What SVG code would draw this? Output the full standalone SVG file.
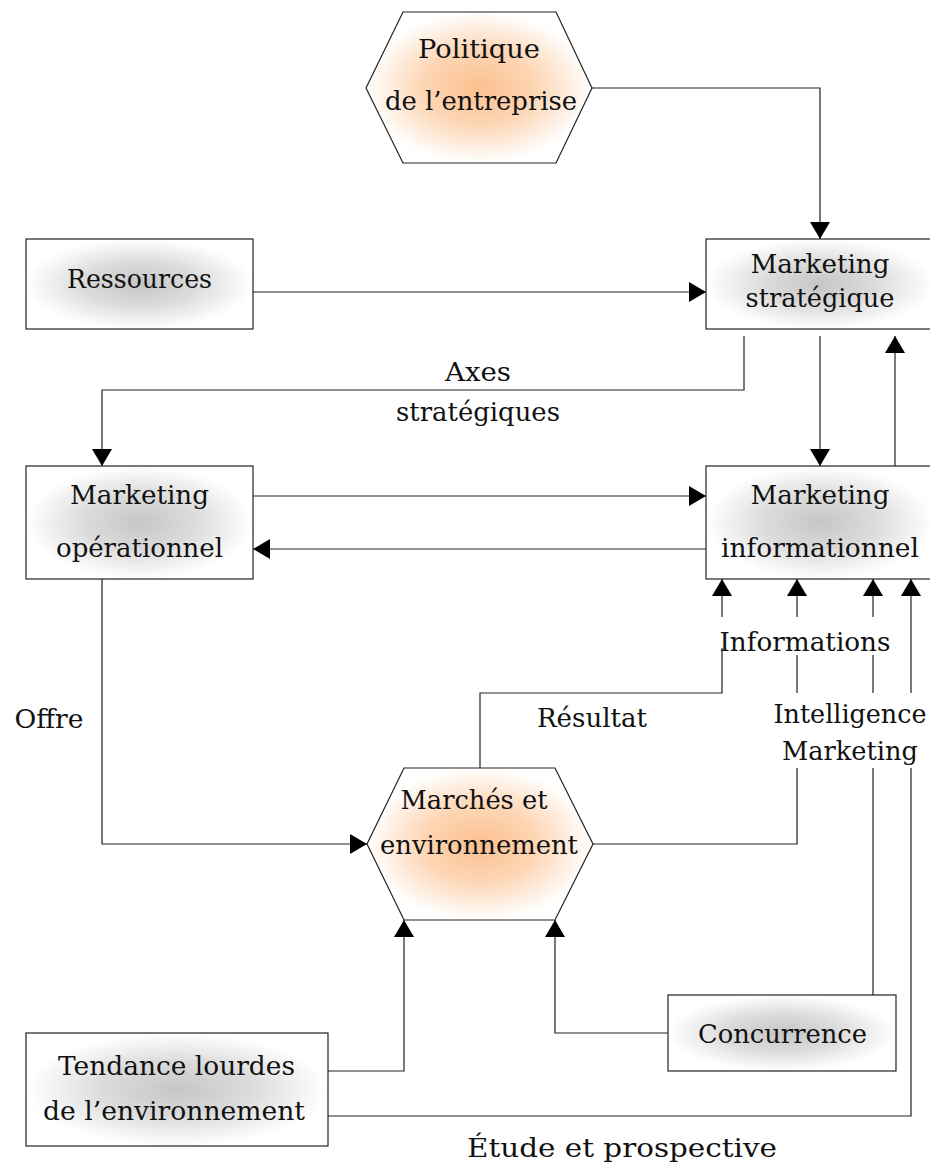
<svg xmlns="http://www.w3.org/2000/svg" width="930" height="1167" viewBox="0 0 930 1167">
  <defs>
    <radialGradient id="grayShade" cx="0.5" cy="0.5" r="0.5">
      <stop offset="0" stop-color="#c6c6c6"/>
      <stop offset="0.5" stop-color="#dcdcdc"/>
      <stop offset="1" stop-color="#ffffff"/>
    </radialGradient>
    <radialGradient id="orangeShade" cx="0.5" cy="0.5" r="0.5">
      <stop offset="0" stop-color="#fbc08e"/>
      <stop offset="0.5" stop-color="#fdd6b5"/>
      <stop offset="1" stop-color="#ffffff"/>
    </radialGradient>
    <marker id="arrow" markerUnits="userSpaceOnUse" markerWidth="18" markerHeight="20" viewBox="0 0 18 20" refX="17" refY="10" orient="auto">
      <path d="M0,0 L17,10 L0,20 Z" fill="#000"/>
    </marker>
  </defs>
  <style>
    .box { stroke: #222; stroke-width: 1.2; fill: url(#grayShade); }
    .hex { stroke: #222; stroke-width: 1.2; fill: url(#orangeShade); }
    .wire { fill: none; stroke: #222; stroke-width: 1.2; }
    .arr { marker-end: url(#arrow); }
    text { font-family: "DejaVu Serif", "Liberation Serif", serif; font-size: 26px; fill: #111; text-anchor: middle; }
  </style>

  <rect width="930" height="1167" fill="#fff"/>

  <!-- connectors -->
  <g id="connectors">
    <path class="wire arr" d="M592,88 H820 V239"/>
    <path class="wire arr" d="M253,292 H706"/>
    <path class="wire arr" d="M744,336 V390 H102 V466"/>
    <path class="wire arr" d="M820,336 V466"/>
    <path class="wire arr" d="M895,466 V336"/>
    <path class="wire arr" d="M253,496 H706"/>
    <path class="wire arr" d="M706,549 H253"/>
    <path class="wire arr" d="M102,579 V844 H367"/>
    <path class="wire arr" d="M480,768 V693 H722 V648 M722,617 V579"/>
    <path class="wire arr" d="M593,844 H797 V768 M797,693 V655 M797,617 V579"/>
    <path class="wire arr" d="M873,995 V768 M873,693 V655 M873,617 V579"/>
    <path class="wire arr" d="M328,1116 H911 V768 M911,693 V579"/>
    <path class="wire arr" d="M328,1071 H404 V920"/>
    <path class="wire arr" d="M668,1033 H555 V920"/>
  </g>

  <!-- connector labels -->
  <g id="labels">
    <text x="478" y="381" textLength="66" lengthAdjust="spacingAndGlyphs">Axes</text>
    <text x="478" y="421" textLength="164" lengthAdjust="spacingAndGlyphs">stratégiques</text>
    <text x="49" y="728" textLength="69" lengthAdjust="spacingAndGlyphs">Offre</text>
    <text x="592" y="727" textLength="110" lengthAdjust="spacingAndGlyphs">Résultat</text>
    <text x="805" y="651" textLength="171" lengthAdjust="spacingAndGlyphs">Informations</text>
    <text x="850" y="723" textLength="153" lengthAdjust="spacingAndGlyphs">Intelligence</text>
    <text x="850" y="760" textLength="136" lengthAdjust="spacingAndGlyphs">Marketing</text>
    <text x="622" y="1157" textLength="310" lengthAdjust="spacingAndGlyphs">Étude et prospective</text>
  </g>

  <g id="politique">
    <polygon class="hex" points="403,12 556,12 592,88 556,163 403,163 366,88"/>
    <text x="479" y="58" textLength="122" lengthAdjust="spacingAndGlyphs">Politique</text>
    <text x="481" y="110" textLength="192" lengthAdjust="spacingAndGlyphs">de l’entreprise</text>
  </g>

  <g id="ressources">
    <rect class="box" x="26" y="239" width="227" height="90"/>
    <text x="139.5" y="288" textLength="145" lengthAdjust="spacingAndGlyphs">Ressources</text>
  </g>

  <g id="marketing-strategique">
    <rect class="box" x="706" y="239" width="228" height="90"/>
    <text x="820" y="273" textLength="139" lengthAdjust="spacingAndGlyphs">Marketing</text>
    <text x="820" y="307" textLength="149" lengthAdjust="spacingAndGlyphs">stratégique</text>
  </g>

  <g id="marketing-operationnel">
    <rect class="box" x="26" y="466" width="227" height="113"/>
    <text x="139.5" y="504" textLength="139" lengthAdjust="spacingAndGlyphs">Marketing</text>
    <text x="139.5" y="557" textLength="167" lengthAdjust="spacingAndGlyphs">opérationnel</text>
  </g>

  <g id="marketing-informationnel">
    <rect class="box" x="706" y="466" width="228" height="113"/>
    <text x="820" y="504" textLength="139" lengthAdjust="spacingAndGlyphs">Marketing</text>
    <text x="820" y="557" textLength="198" lengthAdjust="spacingAndGlyphs">informationnel</text>
  </g>

  <g id="marches">
    <polygon class="hex" points="404,768 555,768 593,844 555,920 404,920 367,844"/>
    <text x="474" y="809" textLength="147" lengthAdjust="spacingAndGlyphs">Marchés et</text>
    <text x="479" y="854" textLength="198" lengthAdjust="spacingAndGlyphs">environnement</text>
  </g>

  <g id="tendance">
    <rect class="box" x="26" y="1033" width="302" height="113"/>
    <text x="176.5" y="1075" textLength="237" lengthAdjust="spacingAndGlyphs">Tendance lourdes</text>
    <text x="174" y="1120" textLength="262" lengthAdjust="spacingAndGlyphs">de l’environnement</text>
  </g>

  <g id="concurrence">
    <rect class="box" x="668" y="995" width="228" height="76"/>
    <text x="782.5" y="1043" textLength="169" lengthAdjust="spacingAndGlyphs">Concurrence</text>
  </g>
</svg>
